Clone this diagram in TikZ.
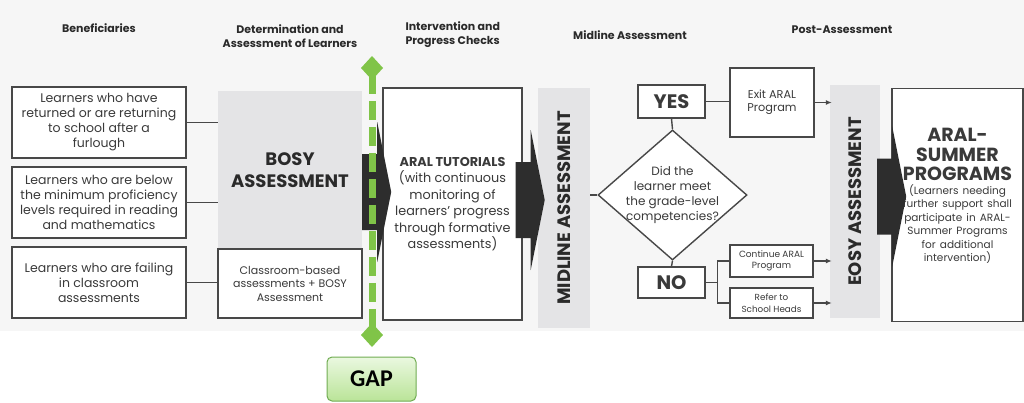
\documentclass[tikz,border=0pt]{standalone}
\usepackage{fontspec}
\setmainfont{Poppins}
\newfontfamily\gapfont{Carlito}
\usepackage{graphicx}
\usetikzlibrary{arrows.meta,positioning,calc,shapes.geometric}
\definecolor{pageGray}{RGB}{246,246,246}
\definecolor{bandGray}{RGB}{228,228,230}
\definecolor{boxLine}{RGB}{72,72,72}
\definecolor{txtDark}{RGB}{58,58,58}
\definecolor{hdrDark}{RGB}{42,42,42}
\definecolor{arrowDark}{RGB}{45,45,45}
\definecolor{gapGreen}{RGB}{128,196,72}
\definecolor{gapTopFill}{RGB}{234,248,224}
\definecolor{gapBotFill}{RGB}{186,228,152}
\definecolor{gapEdge}{RGB}{112,172,82}
\newcommand{\blockarrow}[1]{%
  \fill[blk] #1 ++(0,-38) -- ++(15,0) -- ++(0,-32) -- ++(14,70) -- ++(-14,70) -- ++(0,-32) -- ++(-15,0) -- cycle;}

\begin{document}
\begin{tikzpicture}[x=1pt, y=-1pt,
  font=\fontsize{12.5}{15}\selectfont,
  box/.style={draw=boxLine, line width=1.4pt, fill=white, align=center, inner sep=2pt, text=txtDark},
  band/.style={fill=bandGray, inner sep=0pt, text=hdrDark, font=\fontsize{18}{20}\selectfont\bfseries},
  hdr/.style={font=\fontsize{11}{14}\selectfont\bfseries, text=hdrDark, align=center},
  lnk/.style={draw=boxLine, line width=1.4pt},
  arr/.style={lnk, -{Latex[length=6pt,width=5pt]}},
  blk/.style={fill=arrowDark},
  gapline/.style={draw=gapGreen, line width=7pt, dash pattern=on 19pt off 7pt, {Diamond[length=24pt,width=22pt]}-{Diamond[length=24pt,width=22pt]}},
  gapbox/.style={draw=gapEdge, line width=1pt, rounded corners=5pt, top color=gapTopFill, bottom color=gapBotFill, font=\gapfont\fontsize{24}{26}\selectfont\bfseries}
]
\useasboundingbox (0,0) rectangle (1024,402);
\fill[pageGray] (0,0) rectangle (1024,331);

% Column headers
\node[hdr] (hBen) at (99,28) {Beneficiaries};
\node[hdr] (hDet) at (290,36) {Determination and\\Assessment of Learners};
\node[hdr, align=left, anchor=west] (hInt) at (402,35) {Intervention and\\Progress Checks};
\node[hdr] (hMid) at (630,35) {Midline Assessment};
\node[hdr] (hPost) at (842,30) {Post-Assessment};

% Beneficiaries
\node[box, minimum width=174pt, minimum height=71pt] (ben1) at (99,122.5) {Learners who have\\returned or are returning\\to school after a\\furlough};
\node[box, minimum width=174pt, minimum height=71pt] (ben2) at (99,202.5) {Learners who are below\\the minimum proficiency\\levels required in reading\\and mathematics};
\node[box, minimum width=174pt, minimum height=71pt] (ben3) at (99,282.5) {Learners who are failing\\in classroom\\assessments};

% Determination
\node[band, minimum width=144pt, minimum height=159pt, font=\fontsize{18}{22}\selectfont\bfseries, align=center] (bosy) at (290,170) {BOSY\\ASSESSMENT};
\node[box, minimum width=144pt, minimum height=69pt, font=\fontsize{11}{13.5}\selectfont] (crb) at (290,283.5) {Classroom-based\\assessments + BOSY\\Assessment};

% Intervention
\node[box, minimum width=139pt, minimum height=232pt, font=\fontsize{12.8}{16.5}\selectfont] (aral) at (452.5,204) {\textbf{ARAL TUTORIALS}\\(with continuous\\monitoring of\\learners’ progress\\through formative\\assessments)};

% Midline
\node[band, minimum width=52pt, minimum height=240pt] (midband) at (564,208) {\rotatebox{90}{MIDLINE ASSESSMENT}};
\node[box, minimum width=67pt, minimum height=33pt, font=\fontsize{19.5}{21}\selectfont\bfseries] (yes) at (671.5,101.5) {YES};
\node[diamond, draw=boxLine, line width=1.4pt, fill=white, inner sep=0pt, minimum width=149pt, minimum height=130pt,
  label={[align=center, text=txtDark, font=\fontsize{12}{15.3}\selectfont]center:Did the\\learner meet\\the grade-level\\competencies?}] (dec) at (672.5,195) {};
\node[box, minimum width=67pt, minimum height=31pt, font=\fontsize{19.5}{21}\selectfont\bfseries] (no) at (671.5,282.5) {NO};

% Post-assessment
\node[box, minimum width=84pt, minimum height=69pt, font=\fontsize{11.3}{13}\selectfont] (exitb) at (772,102.5) {Exit ARAL\\Program};
\node[box, minimum width=83pt, minimum height=32pt, font=\fontsize{9}{11}\selectfont] (cont) at (771.5,261) {Continue ARAL\\Program};
\node[box, minimum width=83pt, minimum height=30pt, font=\fontsize{8.8}{12}\selectfont] (refer) at (771.5,303) {Refer to\\School Heads};
\node[band, minimum width=50pt, minimum height=233pt] (eosy) at (855,201.5) {\rotatebox{90}{EOSY ASSESSMENT}};
\node[box, minimum width=129pt, minimum height=233pt, text width=127pt] (summer) at (957.5,205) {{\fontsize{19}{19.5}\selectfont\bfseries ARAL-\\SUMMER\\PROGRAMS\par}{\fontsize{10.5}{13.5}\selectfont (Learners needing\\further support shall\\participate in ARAL-\\Summer Programs\\for additional\\intervention)\par}\vspace{18pt}};

% Gap marker
\coordinate (gapTop) at (372,56);
\coordinate (gapBot) at (372,347);
\node[gapbox, minimum width=89pt, minimum height=44pt] (gap) at (371.5,379) {GAP};

% Connectors
\draw[lnk] (ben1.east) -- (bosy.west |- ben1.east);
\draw[lnk] (ben2.east) -- (bosy.west |- ben2.east);
\draw[lnk] (ben3.east) -- (crb.west |- ben3.east);
\draw[lnk] (midband.east |- dec.west) -- (dec.west);
\draw[lnk] (yes.south) -- (dec.north);
\draw[lnk] (dec.south) -- (no.north);
\draw[lnk] (yes.east) -- (exitb.west |- yes.east);
\coordinate (noSplit) at ($(no.east)+(12,0)$);
\draw[lnk] (no.east) -- (noSplit);
\draw[lnk] (cont.west) -| (noSplit) |- (refer.west);
\draw[arr] (exitb.east) -- ($(eosy.west |- exitb.east)+(2,0)$);
\draw[arr] (cont.east) -- ($(eosy.west |- cont.east)+(2,0)$);
\draw[arr] (refer.east) -- ($(eosy.west |- refer.east)+(2,0)$);

% Block arrows between stages
\blockarrow{($(bosy.east)+(0,22)$)}
\blockarrow{($(aral.east)+(-7,-4)$)}
\blockarrow{($(eosy.east)+(-3,-5)$)}

% Gap line
\draw[gapline] (gapTop) -- (gapBot);

\end{tikzpicture}
\end{document}
